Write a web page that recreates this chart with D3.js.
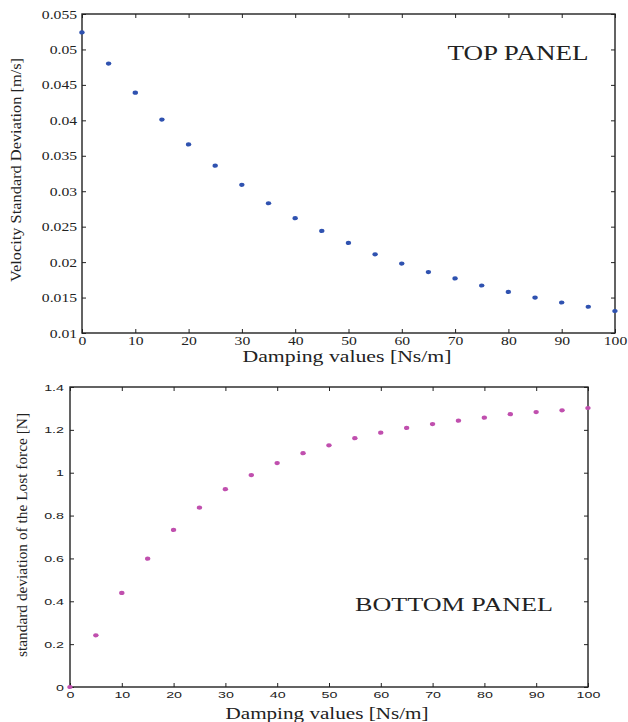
<!DOCTYPE html>
<html><head><meta charset="utf-8">
<script src="https://cdn.jsdelivr.net/npm/d3@7"></script>
<style>
html,body{margin:0;padding:0;background:#fff;}
svg{display:block;}
</style></head>
<body>
<svg id="c" width="628" height="722"></svg>
<script>
const damping = [0,5,10,15,20,25,30,35,40,45,50,55,60,65,70,75,80,85,90,95,100];
const velocityStd = [0.0524,0.0480,0.0439,0.0401,0.0366,0.0336,0.0309,0.0283,0.0262,0.0244,0.0227,0.0211,0.0198,0.0186,0.0177,0.0167,0.0158,0.0150,0.0143,0.0137,0.0131];
const lostForceStd = [0.0,0.241,0.439,0.599,0.733,0.837,0.923,0.989,1.045,1.091,1.128,1.161,1.187,1.209,1.227,1.243,1.257,1.273,1.283,1.291,1.302];
const xTicks = [0,10,20,30,40,50,60,70,80,90,100];
const yTicksTop = [0.01,0.015,0.02,0.025,0.03,0.035,0.04,0.045,0.05,0.055];
const yTicksBottom = [0,0.2,0.4,0.6,0.8,1,1.2,1.4];

const svg = d3.select("#c");

function stretch(sel, f){
  sel.each(function(){
    const L = this.getComputedTextLength();
    d3.select(this).attr("textLength", L*f).attr("lengthAdjust","spacingAndGlyphs");
  });
}

function panel(opt){
  const x = d3.scaleLinear().domain([0,100]).range([opt.left,opt.right]);
  const y = d3.scaleLinear().domain(opt.yDomain).range([opt.bottom,opt.top]);
  const g = svg.append("g");
  const fontFam = opt.tickFont;
  const ax = g.append("g").attr("transform",`translate(0,${opt.bottom})`)
    .call(d3.axisBottom(x).tickValues(xTicks).tickFormat(d3.format("d")).tickSizeInner(-4).tickSizeOuter(0).tickPadding(opt.xPad));
  const axT = g.append("g").attr("transform",`translate(0,${opt.top})`)
    .call(d3.axisTop(x).tickValues(xTicks).tickFormat("").tickSizeInner(-4).tickSizeOuter(0));
  const ay = g.append("g").attr("transform",`translate(${opt.left},0)`)
    .call(d3.axisLeft(y).tickValues(opt.yTicks).tickFormat(opt.yFmt).tickSizeInner(-4).tickSizeOuter(0).tickPadding(opt.yPad));
  const ayR = g.append("g").attr("transform",`translate(${opt.right},0)`)
    .call(d3.axisRight(y).tickValues(opt.yTicks).tickFormat("").tickSizeInner(-4).tickSizeOuter(0));
  [ax,axT,ay,ayR].forEach(a=>{
    a.select(".domain").remove();
    a.selectAll(".tick line").attr("stroke","#222").attr("stroke-width",1);
    a.selectAll("text").attr("font-family",fontFam).attr("font-size",opt.tickSize).attr("fill","#222");
  });
  stretch(ax.selectAll("text"), opt.tickStretch);
  stretch(ay.selectAll("text"), opt.tickStretch);
  g.append("rect").attr("x",opt.left).attr("y",opt.top)
    .attr("width",opt.right-opt.left).attr("height",opt.bottom-opt.top)
    .attr("fill","none").attr("stroke","#222").attr("stroke-width",1.4);
  g.append("g").selectAll("ellipse").data(damping).join("ellipse")
    .attr("cx",(d)=>x(d)).attr("cy",(d,i)=>y(opt.values[i]))
    .attr("rx",2.7).attr("ry",2.1).attr("fill",opt.color);
  g.append("text").attr("x",opt.xLab.x).attr("y",opt.xLab.y).attr("text-anchor","middle")
    .attr("font-family","Liberation Serif, serif").attr("font-size",opt.xLab.size).attr("fill","#222")
    .attr("textLength",opt.xLab.len).attr("lengthAdjust","spacingAndGlyphs")
    .text("Damping values [Ns/m]");
  g.append("text").attr("transform",`translate(${opt.yLab.x},${opt.yLab.y}) rotate(-90)`)
    .attr("text-anchor","middle").attr("font-family","Liberation Serif, serif")
    .attr("font-size",opt.yLab.size).attr("fill","#222")
    .attr("textLength",opt.yLab.len).attr("lengthAdjust","spacingAndGlyphs")
    .text(opt.yLab.text);
  g.append("text").attr("x",opt.title.x).attr("y",opt.title.y).attr("text-anchor","middle")
    .attr("font-family","Liberation Serif, serif").attr("font-size",opt.title.size).attr("fill","#222")
    .attr("textLength",opt.title.len).attr("lengthAdjust","spacingAndGlyphs")
    .text(opt.title.text);
}

panel({
  left:82, right:615, top:14, bottom:333,
  yDomain:[0.01,0.055], yTicks:yTicksTop, yFmt:d=>String(+d.toFixed(3)),
  values:velocityStd, color:"#2f52b0",
  tickFont:"Liberation Serif, serif", tickSize:12.5, tickStretch:1.25, xPad:3, yPad:5,
  xLab:{x:347,y:362,size:16,len:209},
  yLab:{x:21,y:170,size:15.5,len:224,text:"Velocity Standard Deviation [m/s]"},
  title:{x:518,y:60,size:20,len:141,text:"TOP PANEL"}
});

panel({
  left:70, right:588, top:387, bottom:687,
  yDomain:[0,1.4], yTicks:yTicksBottom, yFmt:d=>String(+d.toFixed(1)),
  values:lostForceStd, color:"#c04fae",
  tickFont:"Liberation Sans, Arial, sans-serif", tickSize:9.5, tickStretch:1.5, xPad:4, yPad:6,
  xLab:{x:327,y:719,size:16.5,len:203},
  yLab:{x:27,y:535,size:14.5,len:244,text:"standard deviation of the Lost force [N]"},
  title:{x:454,y:611,size:19,len:198,text:"BOTTOM PANEL"}
});
</script>
</body></html>
